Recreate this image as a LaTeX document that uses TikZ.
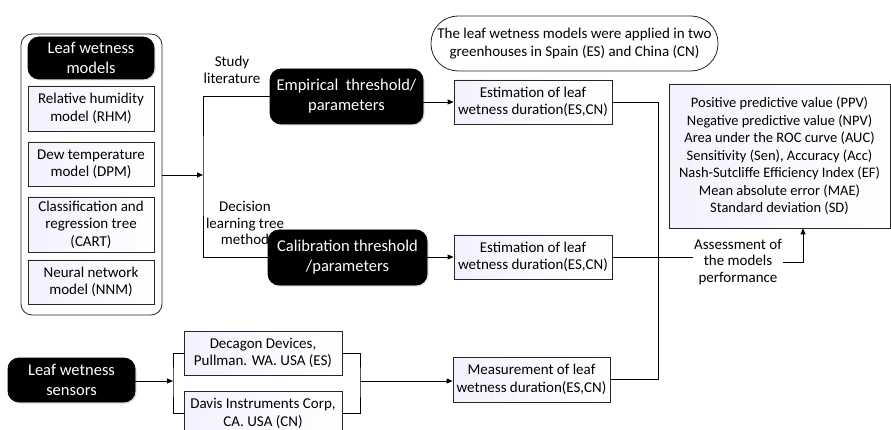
\documentclass[tikz,border=0pt]{standalone}
\usepackage{fontspec}
\setmainfont{Carlito}
\usetikzlibrary{arrows.meta,shadows}

\tikzset{
    every picture/.style={line width=0.8pt},
    flow/.style={-{Triangle[length=6pt,width=5pt]}},
    plainbox/.style={draw=black!85, align=center, inner sep=0pt,
        left color=blue!5!white, right color=white,
        font=\fontsize{15}{17.5}\selectfont},
    darkbox/.style={draw=black, fill=black, text=white, align=center, inner sep=0pt,
        rounded corners=11pt, font=\fontsize{16.5}{20}\selectfont,
        drop shadow={opacity=0.3, shadow xshift=1.5pt, shadow yshift=-1.5pt}},
    labeltext/.style={align=center, inner sep=1pt, font=\fontsize{15}{16.5}\selectfont}
}

\begin{document}
\begin{tikzpicture}[x=1pt, y=-1pt]
        \useasboundingbox (0,0) rectangle (891,430);

        % model frame
        \node (frame) at (91.5,174.5) [draw=black!85, rounded corners=11pt,
            minimum width=141pt, minimum height=281pt] {};
        \node (hdr) at (91,58) [darkbox, minimum width=126pt, minimum height=42pt,
            drop shadow={opacity=0}] {Leaf wetness\\models};
        \node (rhm) at (91,108.5) [plainbox, minimum width=126pt, minimum height=45pt] {Relative humidity\\model (RHM)};
        \node (dpm) at (91,164) [plainbox, minimum width=126pt, minimum height=44pt] {Dew temperature\\model (DPM)};
        \node (cart) at (91,224.5) [plainbox, minimum width=126pt, minimum height=55pt] {Classification and\\regression tree\\(CART)};
        \node (nnm) at (91,282) [plainbox, minimum width=126pt, minimum height=44pt] {Neural network\\model (NNM)};

        % thresholds
        \node (emp) at (346.5,96.5) [darkbox, minimum width=153pt, minimum height=55pt] {Empirical\ \ threshold/\\parameters};
        \node (cal) at (347.5,257.5) [darkbox, minimum width=159pt, minimum height=55pt] {Calibration threshold\\/parameters};
        \node (study) at (232,70) [labeltext] {Study\\literature};
        \node (dec) at (245,223) [labeltext] {Decision\\learning tree\\method};

        % estimations
        \node (note) at (574.5,43.5) [draw=black!85, rounded corners=27pt, align=center,
            minimum width=287pt, minimum height=55pt, inner sep=0pt,
            font=\fontsize{15}{17.5}\selectfont]
            {The leaf wetness models were applied in two\\greenhouses in Spain (ES) and China (CN)};
        \node (est1) at (533,102) [plainbox, minimum width=158pt, minimum height=44pt] {Estimation of leaf\\wetness duration(ES,CN)};
        \node (est2) at (533,257) [plainbox, minimum width=158pt, minimum height=44pt] {Estimation of leaf\\wetness duration(ES,CN)};

        % sensors
        \node (sens) at (71.5,380) [darkbox, minimum width=127pt, minimum height=44pt] {Leaf wetness\\sensors};
        \node (decagon) at (263,353) [plainbox, minimum width=158pt, minimum height=44pt] {Decagon Devices,\\Pullman. WA. USA (ES)};
        \node (davis) at (263,413.5) [plainbox, minimum width=158pt, minimum height=45pt] {Davis Instruments Corp,\\CA. USA (CN)};
        \node (meas) at (531.5,379.5) [plainbox, minimum width=157pt, minimum height=45pt] {Measurement of leaf\\wetness duration(ES,CN)};

        % assessment
        \node (metrics) at (779.5,156) [plainbox, minimum width=221pt, minimum height=144pt,
            font=\fontsize{14.5}{17.5}\selectfont] {Positive predictive value (PPV)\\Negative predictive value (NPV)\\Area under the ROC curve (AUC)\\Sensitivity (Sen), Accuracy (Acc)\\Nash-Sutcliffe Efficiency Index (EF)\\Mean absolute error (MAE)\\Standard deviation (SD)};
        \node (assess) at (738,262) [labeltext] {Assessment of\\the models\\performance};

        \coordinate (split) at (203,175);
        \coordinate (join) at (658,257);
        \coordinate (fork) at (173,381);
        \coordinate (merge) at (360,381);

        \draw[flow] (frame.east |- split) -- (split);
        \draw (emp.west) -| (split) |- (cal.west);
        \draw[flow] (emp.east |- est1.west) -- (est1.west);
        \draw[flow] (cal.east |- est2.west) -- (est2.west);
        \draw (est1.east) -| (join);
        \draw (meas.east) -| (join);
        \draw (est2.east) -- (est2.east -| assess.west);
        \draw[flow] (assess.east) -| ([xshift=23.5pt]metrics.south);

        \draw[flow] (sens.east |- fork) -- (fork);
        \draw (decagon.west) -| (fork) |- (davis.west);
        \draw (decagon.east) -| (merge) |- (davis.east);
        \draw[flow] (merge) -- (meas.west |- merge);
    \end{tikzpicture}
\end{document}
